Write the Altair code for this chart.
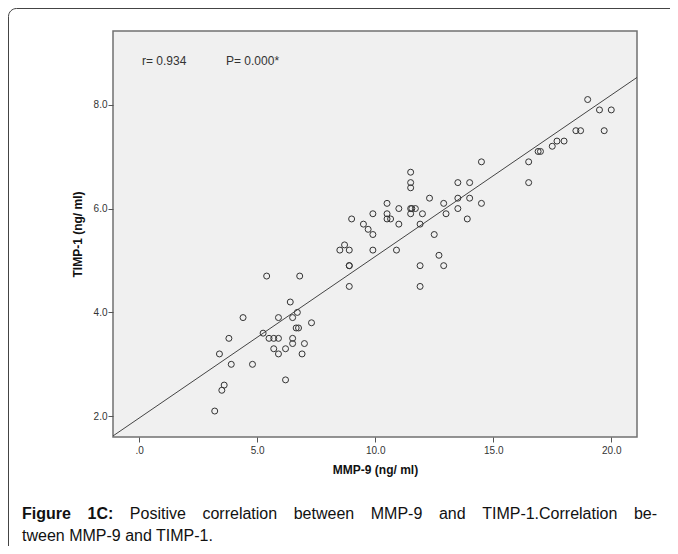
import altair as alt
import pandas as pd

# ---- data ----
mmp9 = [3.2, 3.5, 3.6, 3.4, 3.8, 3.9, 4.4, 4.8, 5.25, 5.5, 5.7, 5.9, 5.4, 5.7, 5.9,
        5.9, 6.2, 6.2, 6.4, 6.5, 6.5, 6.5, 6.7, 6.65, 6.75, 6.8, 6.9, 7.0, 7.3,
        8.5, 8.7, 8.9, 8.9, 8.9, 8.9, 9.0, 9.5, 9.7, 9.9, 9.9, 9.9,
        10.5, 10.5, 10.5, 10.65, 11.0, 11.0, 10.9, 11.5, 11.5, 11.5, 11.5, 11.55,
        11.7, 11.5, 12.0, 11.9, 11.9, 11.9, 12.3, 12.5, 12.7, 12.9, 12.9, 13.0,
        13.5, 14.0, 13.5, 14.0, 13.5, 13.9, 14.5, 14.5,
        16.5, 16.5, 16.9, 17.0, 17.5, 17.7, 18.0, 18.5, 18.7, 19.7, 19.0, 19.5, 20.0]
timp1 = [2.1, 2.5, 2.6, 3.2, 3.5, 3.0, 3.9, 3.0, 3.6, 3.5, 3.5, 3.5, 4.7, 3.3, 3.9,
         3.2, 3.3, 2.7, 4.2, 3.9, 3.5, 3.4, 4.0, 3.7, 3.7, 4.7, 3.2, 3.4, 3.8,
         5.2, 5.3, 5.2, 4.9, 4.9, 4.5, 5.8, 5.7, 5.6, 5.5, 5.9, 5.2,
         6.1, 5.9, 5.8, 5.8, 6.0, 5.7, 5.2, 6.7, 6.5, 6.4, 6.0, 6.0,
         6.0, 5.9, 5.9, 5.7, 4.9, 4.5, 6.2, 5.5, 5.1, 4.9, 6.1, 5.9,
         6.5, 6.5, 6.2, 6.2, 6.0, 5.8, 6.1, 6.9,
         6.9, 6.5, 7.1, 7.1, 7.2, 7.3, 7.3, 7.5, 7.5, 7.5, 8.1, 7.9, 7.9]
x_ticks = [0, 5, 10, 15, 20]
y_ticks = [2, 4, 6, 8]
x_domain = [-1.11, 21.09]
y_domain = [1.60, 9.42]
stat_texts = ["r= 0.934", "P= 0.000*"]
caption_bold_words = ["Figure", "1C:"]
caption_line1_words = ["Positive", "correlation", "between", "MMP-9", "and",
                       "TIMP-1.Correlation", "be-"]
caption_line2 = "tween MMP-9 and TIMP-1."

df = pd.DataFrame({"MMP-9": mmp9, "TIMP-1": timp1})

NARROW = "Liberation Sans Narrow, Arial Narrow, Liberation Sans, Arial"
SANS = "Liberation Sans, Arial, Helvetica"

# Arial / Liberation Sans advance widths (1/1000 em) for caption justification
REG = {' ': 278, '-': 333, '.': 278, '1': 556, '9': 556, ':': 278, 'C': 722, 'I': 278,
       'M': 833, 'P': 667, 'T': 611, 'F': 611, 'a': 556, 'b': 556, 'c': 500, 'd': 556,
       'e': 556, 'g': 556, 'h': 556, 'i': 222, 'l': 222, 'n': 556, 'o': 556, 'r': 333,
       's': 500, 't': 278, 'u': 556, 'v': 500, 'w': 722}
BOLD = {'F': 611, 'i': 278, 'g': 611, 'u': 611, 'r': 389, 'e': 556, '1': 556, 'C': 722,
        ':': 333, ' ': 278}

CAP_FS = 16
def text_w(word, table):
    return sum(table.get(ch, 556) for ch in word) * CAP_FS / 1000.0

PLOT_LEFT_PAGE = 113
line_start = 22 - PLOT_LEFT_PAGE
line_end = 657 - PLOT_LEFT_PAGE
words = [(w, True) for w in caption_bold_words] + [(w, False) for w in caption_line1_words]
widths = [text_w(w, BOLD if b else REG) for w, b in words]
gap = (line_end - line_start - sum(widths)) / (len(words) - 1)

xscale = alt.Scale(domain=x_domain, nice=False, zero=False)
yscale = alt.Scale(domain=y_domain, nice=False, zero=False)

xaxis = alt.Axis(
    values=x_ticks,
    labelExpr="datum.value == 0 ? '.0' : format(datum.value, '.1f')",
    title="MMP-9 (ng/ ml)", grid=False, domain=False,
    tickSize=5, tickColor="#555555", tickWidth=1,
    labelColor="#333333", labelFont=NARROW, labelFontSize=10, labelPadding=3,
    titleFont=SANS, titleFontWeight="bold", titleFontSize=12,
    titlePadding=9, titleColor="#111111")
yaxis = alt.Axis(
    values=y_ticks, format=".1f",
    title="TIMP-1 (ng/ ml)", grid=False, domain=False,
    tickSize=5, tickColor="#555555", tickWidth=1,
    labelColor="#333333", labelFont=NARROW, labelFontSize=10, labelPadding=1,
    titleFont=SANS, titleFontWeight="bold", titleFontSize=12,
    titlePadding=9, titleColor="#111111")

card = alt.Chart(pd.DataFrame({"k": [0]})).mark_rect(
    cornerRadius=8, fillOpacity=0, stroke="#444444", strokeWidth=1
).encode(x=alt.value(-104.5), x2=alt.value(700), y=alt.value(-22.5), y2=alt.value(700))

points = alt.Chart(df).mark_point(
    shape="circle", filled=False, size=36, color="#333333", strokeWidth=1, opacity=1
).encode(
    x=alt.X("MMP-9:Q", scale=xscale, axis=xaxis),
    y=alt.Y("TIMP-1:Q", scale=yscale, axis=yaxis),
)

line = alt.Chart(df).transform_regression(
    "MMP-9", "TIMP-1", extent=x_domain
).mark_line(color="#444444", strokeWidth=1, clip=True).encode(
    x=alt.X("MMP-9:Q", scale=xscale),
    y=alt.Y("TIMP-1:Q", scale=yscale),
)

def label(text, x, y, font, size, weight="normal", color="#333333"):
    return alt.Chart(pd.DataFrame({"t": [text]})).mark_text(
        font=font, fontSize=size, fontWeight=weight, color=color,
        align="left", baseline="alphabetic"
    ).encode(text="t:N", x=alt.value(x), y=alt.value(y))

layers = [card, line, points,
          label(stat_texts[0], 29, 34, NARROW, 12),
          label(stat_texts[1], 113, 34, NARROW, 12)]

cx = line_start
for (w, b), wd in zip(words, widths):
    layers.append(label(w, round(cx, 2), 488, SANS, CAP_FS, "bold" if b else "normal", "#111111"))
    cx += wd + gap
layers.append(label(caption_line2, line_start, 510, SANS, CAP_FS, "normal", "#111111"))

chart = alt.layer(*layers).properties(
    width=524, height=406,
    padding={"left": 105, "top": 23, "right": 33, "bottom": 109},
    autosize=alt.AutoSizeParams(type="none"),
    background="white",
).configure_view(
    fill="#F0F0F0", stroke="#707070", strokeWidth=1.5
)

chart.save("out.html", embed_options={"renderer": "svg", "actions": False})
